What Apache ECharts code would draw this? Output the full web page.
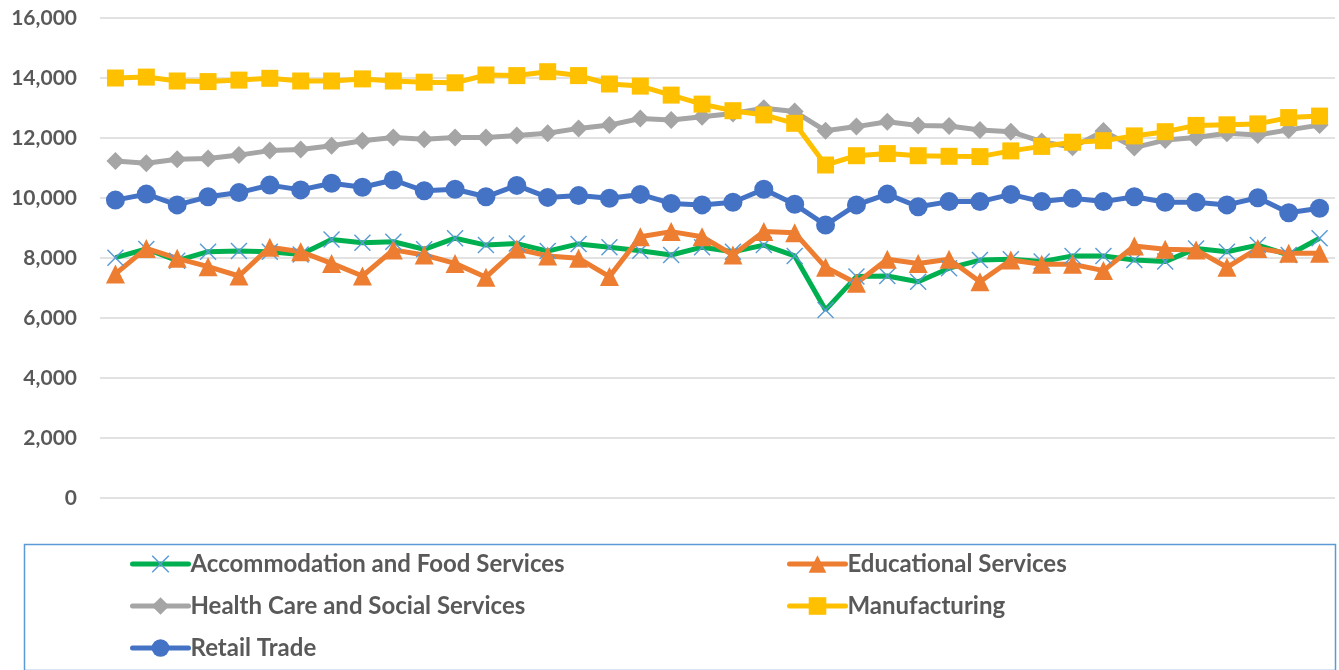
<!DOCTYPE html>
<html>
<head>
<meta charset="utf-8">
<script src="https://cdn.jsdelivr.net/npm/echarts@6/dist/echarts.min.js"></script>
<style>
html,body{margin:0;padding:0;background:#fff;}
#chart{width:1339px;height:670px;}
</style>
</head>
<body>
<div id="chart"></div>
<script>
const categories = ['1','2','3','4','5','6','7','8','9','10','11','12','13','14','15','16','17','18','19','20',
  '21','22','23','24','25','26','27','28','29','30','31','32','33','34','35','36','37','38','39','40'];
const yTicks = [0, 2000, 4000, 6000, 8000, 10000, 12000, 14000, 16000];

const accommodation = [8010,8300,7910,8210,8230,8210,8120,8620,8510,8540,8290,8660,8430,8480,8230,8470,8360,8240,8100,8360,
  8210,8430,8070,6270,7380,7400,7210,7660,7930,7960,7880,8070,8070,7930,7880,8320,8210,8430,8100,8660];
const educational = [7470,8320,7990,7710,7400,8360,8210,7820,7400,8270,8100,7820,7360,8300,8070,7990,7380,8710,8880,8710,
  8100,8880,8840,7690,7160,7960,7820,7960,7210,7930,7790,7790,7580,8400,8290,8270,7690,8320,8160,8160];
const healthCare = [11230,11160,11290,11320,11430,11580,11620,11740,11910,12020,11960,12020,12020,12080,12160,12320,12430,12650,12600,12710,
  12820,12990,12880,12240,12380,12540,12420,12400,12270,12210,11880,11690,12230,11680,11930,12020,12160,12100,12270,12430];
const manufacturing = [14000,14030,13900,13880,13930,13990,13900,13900,13970,13900,13860,13840,14100,14080,14210,14080,13800,13730,13430,13130,
  12910,12770,12490,11100,11410,11480,11410,11390,11380,11570,11720,11860,11910,12070,12210,12420,12440,12470,12680,12730];
const retail = [9930,10130,9770,10040,10180,10430,10270,10490,10360,10600,10240,10290,10040,10420,10020,10080,9990,10120,9820,9770,
  9860,10290,9790,9100,9770,10130,9710,9880,9880,10120,9880,9990,9880,10040,9860,9860,9770,10010,9510,9660];

const names = ['Accommodation and Food Services','Educational Services','Health Care and Social Services','Manufacturing','Retail Trade'];

const xSymbol = 'path://M0,6 L6,0 L50,44 L94,0 L100,6 L56,50 L100,94 L94,100 L50,56 L6,100 L0,94 L44,50 Z';

const chart = echarts.init(document.getElementById('chart'));
const fontFam = 'Lato, "Open Sans", sans-serif';

function mk(name, data, lineColor, markColor, symbol, size) {
  return {
    name: name, type: 'line', data: data, symbol: symbol, symbolSize: size,
    showAllSymbol: true,
    lineStyle: {color: lineColor, width: 5},
    itemStyle: {color: markColor},
    emphasis: {disabled: true},
    animation: false
  };
}

const legendCommon = {
  orient: 'vertical', top: 552, padding: 0,
  itemWidth: 56, itemHeight: 22, itemGap: 18, selectedMode: false,
  lineStyle: {width: 5, cap: 'round'},
  textStyle: {fontSize: 24, fontWeight: 'bold', color: '#595959', fontFamily: fontFam, lineHeight: 22, padding: [0,0,0,-3]}
};

chart.setOption({
  animation: false,
  grid: {left: 100, right: 4, top: 18, bottom: 172, containLabel: false},
  xAxis: {
    type: 'category', data: categories, boundaryGap: true,
    axisLine: {show: false}, axisTick: {show: false}, axisLabel: {show: false}
  },
  yAxis: {
    type: 'value', min: yTicks[0], max: yTicks[yTicks.length-1], interval: 2000,
    axisLine: {show: false}, axisTick: {show: false},
    splitLine: {lineStyle: {color: '#D9D9D9', width: 1.5}},
    axisLabel: {
      margin: 23, color: '#595959', fontSize: 21, fontWeight: 'bold', fontFamily: fontFam,
      formatter: v => v.toLocaleString('en-US')
    }
  },
  legend: [
    Object.assign({data: [names[0], names[2], names[4]], left: 130}, legendCommon),
    Object.assign({data: [names[1], names[3]], left: 787}, legendCommon)
  ],
  graphic: [{
    type: 'rect', left: 22, top: 542, silent: true,
    shape: {width: 1311, height: 126},
    style: {fill: 'none', stroke: '#5B9BD5', lineWidth: 1.5}
  }],
  series: [
    mk(names[0], accommodation, '#00B050', '#5B9BD5', xSymbol, 17),
    mk(names[1], educational, '#ED7D31', '#ED7D31', 'triangle', 19),
    mk(names[2], healthCare, '#A5A5A5', '#A5A5A5', 'diamond', 18),
    mk(names[3], manufacturing, '#FFC000', '#FFC000', 'rect', 17),
    mk(names[4], retail, '#4472C4', '#4472C4', 'circle', 19)
  ]
});
</script>
</body>
</html>
